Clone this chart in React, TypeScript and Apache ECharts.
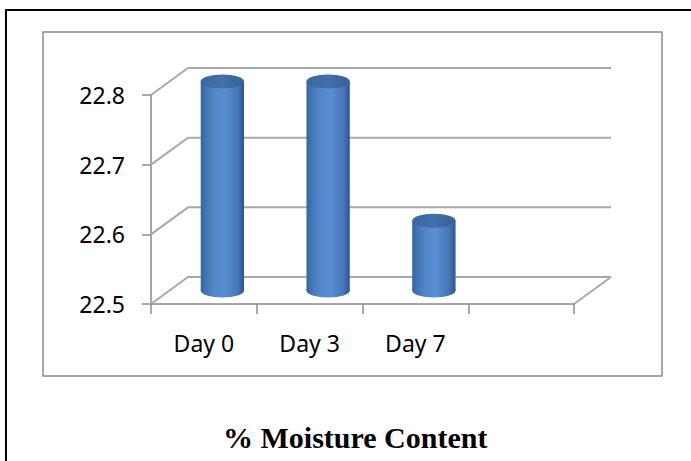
import React, { useEffect, useRef } from "react";
import * as echarts from "echarts";

// Sampling days shown along the floor of the chart (last slot is an empty band)
const categories = ["Day 0", "Day 3", "Day 7", ""];
// % moisture content per day
const moisture = [22.8, 22.8, 22.6];
// Value axis range and gridline levels
const yMin = 22.5;
const yMax = 22.8;
const yStep = 0.1;
const wallLevels = [22.5, 22.6, 22.7, 22.8];

const TITLE = "% Moisture Content";

// Perspective depth of the back wall, in pixels
const DEPTH_X = 37;
const DEPTH_Y = 27;

export default function App() {
  const ref = useRef<HTMLDivElement>(null);

  useEffect(() => {
    if (!ref.current) return;
    const chart = echarts.init(ref.current, null, { renderer: "svg" });

    const bodyGradient = new echarts.graphic.LinearGradient(0, 0, 1, 0, [
      { offset: 0, color: "#3766a3" },
      { offset: 0.3, color: "#5487c9" },
      { offset: 0.55, color: "#5a8ed0" },
      { offset: 0.85, color: "#4677b6" },
      { offset: 1, color: "#2c568e" },
    ]);
    const topGradient = new echarts.graphic.LinearGradient(0, 0, 1, 0, [
      { offset: 0, color: "#3a67a1" },
      { offset: 0.5, color: "#4470a9" },
      { offset: 1, color: "#35609a" },
    ]);

    chart.setOption({
      animation: false,
      backgroundColor: "#ffffff",
      title: {
        text: TITLE,
        left: 218,
        top: 417,
        textStyle: {
          fontFamily: "Liberation Serif",
          fontWeight: "bold",
          fontSize: 30,
          color: "#000",
        },
      },
      graphic: [
        {
          type: "rect",
          shape: { x: 6, y: 10, width: 700, height: 470 },
          style: { fill: "none", stroke: "#000", lineWidth: 2 },
          silent: true,
          z: 0,
        },
        {
          type: "rect",
          shape: { x: 43, y: 32, width: 619, height: 344 },
          style: { fill: "none", stroke: "#8c8c8c", lineWidth: 1.5 },
          silent: true,
          z: 0,
        },
      ],
      grid: { left: 151, top: 95, width: 423, height: 209 },
      xAxis: {
        type: "category",
        data: categories,
        boundaryGap: true,
        axisLine: { show: true, lineStyle: { color: "#a6a6a6", width: 2 } },
        axisTick: { show: true, length: 10, lineStyle: { color: "#8c8c8c", width: 1.5 } },
        axisLabel: {
          margin: 27,
          color: "#000",
          fontFamily: "Noto Sans",
          fontSize: 23,
        },
        splitLine: { show: false },
      },
      yAxis: {
        type: "value",
        min: yMin,
        max: yMax,
        interval: yStep,
        axisLine: { show: true, lineStyle: { color: "#a6a6a6", width: 2 } },
        axisTick: { show: true, length: 9, lineStyle: { color: "#8c8c8c", width: 1.5 } },
        axisLabel: {
          margin: 26,
          color: "#000",
          fontFamily: "Noto Sans",
          fontSize: 23,
          formatter: (v: number) => v.toFixed(1),
        },
        splitLine: { show: false },
      },
      series: [
        {
          // back wall and floor gridlines
          type: "custom",
          clip: false,
          silent: true,
          z: 1,
          data: wallLevels.map((v) => [0, v]),
          renderItem: (params: any, api: any) => {
            const cs = params.coordSys;
            const v = api.value(1);
            const y = api.coord([0, v])[1];
            const left = cs.x;
            const right = cs.x + cs.width;
            const children: any[] = [
              {
                type: "polyline",
                shape: {
                  points: [
                    [left, y],
                    [left + DEPTH_X, y - DEPTH_Y],
                    [right + DEPTH_X, y - DEPTH_Y],
                  ],
                },
                style: { stroke: "#a9a9a9", lineWidth: 2, fill: "none" },
              },
            ];
            if (v === yMin) {
              children.push({
                type: "line",
                shape: { x1: right, y1: y, x2: right + DEPTH_X, y2: y - DEPTH_Y },
                style: { stroke: "#a9a9a9", lineWidth: 2 },
              });
            }
            return { type: "group", children };
          },
        },
        {
          // cylinders sitting at mid-depth of the floor
          type: "custom",
          clip: false,
          z: 3,
          data: moisture.map((v, i) => [i, v]),
          renderItem: (params: any, api: any) => {
            const i = api.value(0);
            const v = api.value(1);
            const top = api.coord([i, v]);
            const base = api.coord([i, yMin]);
            const band = api.size([1, 0])[0];
            const rx = band * 0.205;
            const ry = 7;
            const cx = top[0] + DEPTH_X / 2;
            const yTop = top[1] - DEPTH_Y / 2;
            const yBot = base[1] - DEPTH_Y / 2;
            return {
              type: "group",
              children: [
                {
                  type: "ellipse",
                  shape: { cx, cy: yBot, rx, ry },
                  style: { fill: bodyGradient },
                },
                {
                  type: "rect",
                  shape: { x: cx - rx, y: yTop, width: rx * 2, height: yBot - yTop },
                  style: { fill: bodyGradient },
                },
                {
                  type: "ellipse",
                  shape: { cx, cy: yTop, rx, ry },
                  style: { fill: topGradient },
                },
              ],
            };
          },
        },
      ],
    });

    return () => chart.dispose();
  }, []);

  return (
    <div
      ref={ref}
      style={{ position: "fixed", left: 0, top: 0, width: 691, height: 461 }}
    />
  );
}
